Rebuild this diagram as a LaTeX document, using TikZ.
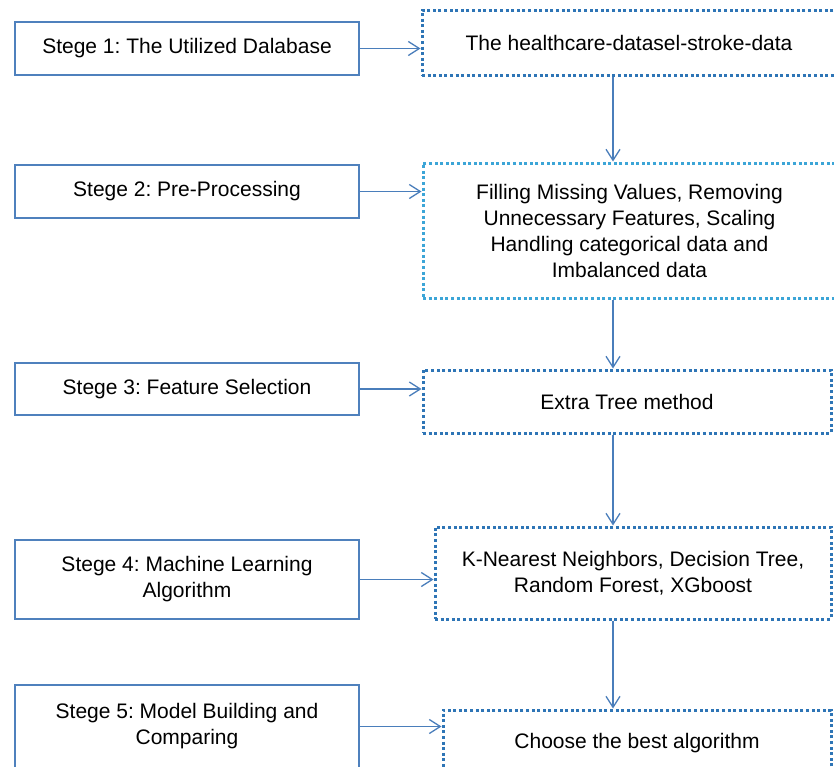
\documentclass[tikz,border=0pt]{standalone}
\usepackage{fontspec}
\setmainfont{Liberation Sans}
\usetikzlibrary{arrows.meta}
\definecolor{stageblue}{RGB}{79,129,189}
\definecolor{dotblue}{RGB}{46,117,182}
\definecolor{dotcyan}{RGB}{60,165,215}
\definecolor{flowblue}{RGB}{74,126,187}
\frenchspacing

\begin{document}
\begin{tikzpicture}[x=1pt, y=-1pt]
    \tikzset{every node/.style={rectangle, align=center, inner sep=0pt, font=\fontsize{21}{26}\selectfont},
        stagebox/.style={draw=stageblue, line width=2.3pt, minimum width=344pt},
        taskbox/.style={draw=#1, line width=3pt, dash pattern=on 3pt off 2.6pt},
        flow/.style={draw=flowblue, line width=1.3pt, -{Straight Barb[length=11pt,width=14pt]}}}
    \clip (0,0) rectangle (834,766);
    \fill[white] (0,0) rectangle (834,766);
    \node[stagebox, minimum height=53pt] (st1) at (187,48.5) {Stege 1: The Utilized Dalabase};
    \node[stagebox, minimum height=53pt] (st2) at (187,191.5) {Stege 2: Pre-Processing};
    \node[stagebox, minimum height=52pt] (st3) at (187,389) {Stege 3: Feature Selection};
    \node[stagebox, minimum height=79pt] (st4) at (187,579.5) {Stege 4: Machine Learning\\Algorithm};
    \node[stagebox, minimum height=83pt] (st5) at (187,726.5) {Stege 5: Model Building and\\Comparing};
    \node[taskbox=dotblue, minimum width=414pt, minimum height=65pt] (ds) at (629,42.5) {The healthcare-datasel-stroke-data};
    \node[taskbox=dotcyan, minimum width=413pt, minimum height=135pt] (pre) at (629.5,230.5)
        {Filling Missing Values, Removing\\Unnecessary Features, Scaling\\Handling categorical data and\\Imbalanced data};
    \node[taskbox=dotblue, minimum width=408pt, minimum height=63pt] (fs) at (627,401.5) {Extra Tree method};
    \node[taskbox=dotblue, minimum width=396pt, minimum height=92pt] (ml) at (633,573)
        {K-Nearest Neighbors, Decision Tree,\\Random Forest, XGboost};
    \node[taskbox=dotblue, minimum width=388pt, minimum height=66pt] (best) at (637,743) {Choose the best algorithm};
    \coordinate (axis) at (613,0);
    \draw[flow] (st1.east) -- (st1.east -| ds.west);
    \draw[flow] (st2.east) -- (st2.east -| pre.west);
    \draw[flow] (st3.east) -- (st3.east -| fs.west);
    \draw[flow] (st4.east) -- (st4.east -| ml.west);
    \draw[flow] (st5.east) -- (st5.east -| best.west);
    \draw[flow] (ds.south -| axis) -- (pre.north -| axis);
    \draw[flow] (pre.south -| axis) -- (fs.north -| axis);
    \draw[flow] (fs.south -| axis) -- (ml.north -| axis);
    \draw[flow] (ml.south -| axis) -- (best.north -| axis);
\end{tikzpicture}
\end{document}
